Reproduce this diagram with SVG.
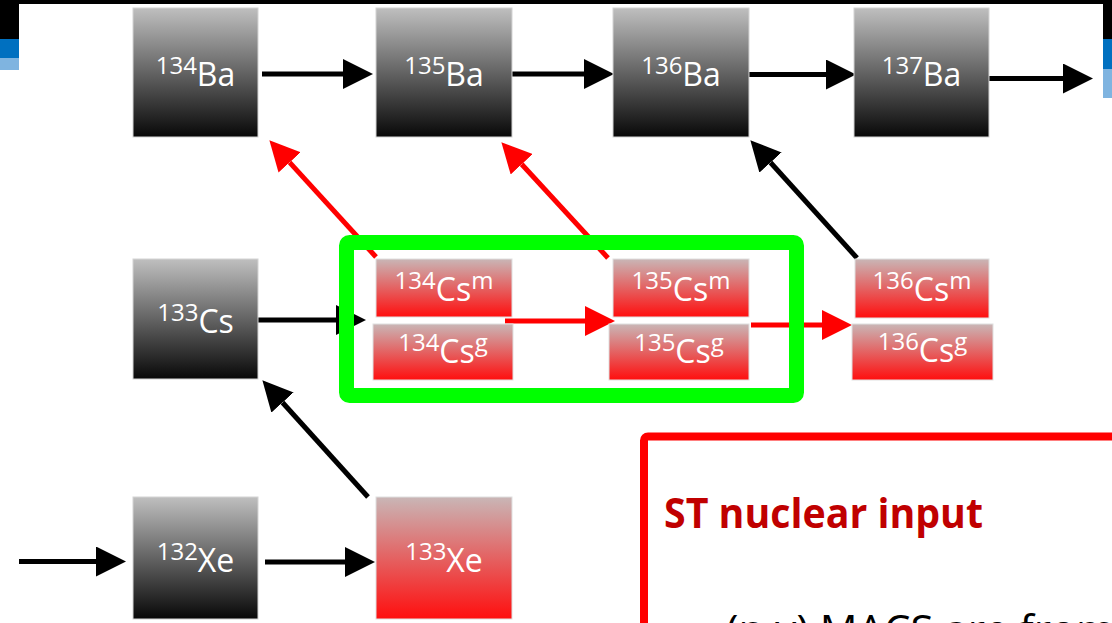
<svg xmlns="http://www.w3.org/2000/svg" width="1112" height="623" viewBox="0 0 1112 623">
  <defs>
    <linearGradient id="gGray" x1="0" y1="0" x2="0" y2="1">
      <stop offset="0" stop-color="#BFBFBF"/>
      <stop offset="1" stop-color="#080808"/>
    </linearGradient>
    <linearGradient id="gRed" x1="0" y1="0" x2="0" y2="1">
      <stop offset="0" stop-color="#C9B6B6"/>
      <stop offset="1" stop-color="#FF0E0E"/>
    </linearGradient>
    <marker id="ahBlack" markerUnits="userSpaceOnUse" markerWidth="30" markerHeight="30" viewBox="0 0 30 30" refX="0" refY="15" orient="auto">
      <path d="M0,0 L30,15 L0,30 Z" fill="#000"/>
    </marker>
    <marker id="ahRed" markerUnits="userSpaceOnUse" markerWidth="30" markerHeight="30" viewBox="0 0 30 30" refX="0" refY="15" orient="auto">
      <path d="M0,0 L30,15 L0,30 Z" fill="#FF0000"/>
    </marker>
  </defs>
  <style>
    .gray { fill: url(#gGray); stroke: #D4D4D4; stroke-width: 1; }
    .red { fill: url(#gRed); stroke: #E0E0E0; stroke-width: 1; }
    .lbl { font-family: "Open Sans", "Noto Sans", "Liberation Sans", sans-serif; fill: #FFFFFF; font-size: 32px; text-anchor: middle; }
    .sup { font-size: 24px; }
    .blk { fill: none; stroke: #000; stroke-width: 5; marker-end: url(#ahBlack); }
    .rd { fill: none; stroke: #FF0000; stroke-width: 5; marker-end: url(#ahRed); }
  </style>

  <!-- slide background elements -->
  <g id="background">
    <rect x="0" y="0" width="1112" height="623" fill="#FFFFFF"/>
    <rect x="0" y="0" width="1112" height="4" fill="#000"/>
    <rect x="0" y="0" width="19" height="39" fill="#000"/>
    <rect x="0" y="39" width="19" height="19" fill="#0070C0"/>
    <rect x="0" y="58" width="19" height="12" fill="#7FB4E0"/>
    <rect x="1103" y="0" width="9" height="39" fill="#000"/>
    <rect x="1103" y="39" width="9" height="30" fill="#0070C0"/>
    <rect x="1103" y="69" width="9" height="29" fill="#7FB4E0"/>
  </g>

  <!-- connectors -->
  <g id="connectors">
    <line class="blk" x1="262" y1="74" x2="343" y2="74"/>
    <line class="blk" x1="505" y1="74" x2="584" y2="74"/>
    <line class="blk" x1="749" y1="74.5" x2="826" y2="74.5"/>
    <line class="blk" x1="986" y1="78.5" x2="1063" y2="78.5"/>
    <line class="blk" x1="258" y1="320" x2="336" y2="320"/>
    <line class="blk" x1="19" y1="561.5" x2="96" y2="561.5"/>
    <line class="blk" x1="265" y1="562" x2="345" y2="562"/>
    <line class="rd" x1="505" y1="321" x2="585" y2="321"/>
    <line class="rd" x1="751" y1="325" x2="822" y2="325"/>
    <line class="rd" x1="376" y1="257" x2="289.6" y2="162.4"/>
    <line class="rd" x1="608" y1="258" x2="521.7" y2="164.3"/>
    <line class="blk" x1="857" y1="258" x2="770.5" y2="162.5"/>
    <line class="blk" x1="368" y1="497" x2="282.5" y2="402.5"/>
  </g>

  <!-- nodes -->
  <g id="Ba134">
    <rect class="gray" x="133" y="8" width="125" height="129"/>
    <text class="lbl" x="195.5" y="86"><tspan class="sup" dy="-12">134</tspan><tspan dy="12">Ba</tspan></text>
  </g>
  <g id="Ba135">
    <rect class="gray" x="376" y="8" width="136" height="129"/>
    <text class="lbl" x="444" y="86"><tspan class="sup" dy="-12">135</tspan><tspan dy="12">Ba</tspan></text>
  </g>
  <g id="Ba136">
    <rect class="gray" x="613" y="8" width="136" height="129"/>
    <text class="lbl" x="681" y="86"><tspan class="sup" dy="-12">136</tspan><tspan dy="12">Ba</tspan></text>
  </g>
  <g id="Ba137">
    <rect class="gray" x="854" y="8" width="135" height="129"/>
    <text class="lbl" x="921.5" y="86"><tspan class="sup" dy="-12">137</tspan><tspan dy="12">Ba</tspan></text>
  </g>
  <g id="Cs133">
    <rect class="gray" x="133" y="259" width="125" height="120"/>
    <text class="lbl" x="195.5" y="333"><tspan class="sup" dy="-12">133</tspan><tspan dy="12">Cs</tspan></text>
  </g>
  <g id="Cs134m">
    <rect class="red" x="376" y="259" width="136" height="58"/>
    <text class="lbl" x="444" y="301"><tspan class="sup" dy="-12">134</tspan><tspan dy="12">Cs</tspan><tspan class="sup" dy="-12">m</tspan></text>
  </g>
  <g id="Cs134g">
    <rect class="red" x="373" y="324" width="140" height="56"/>
    <text class="lbl" x="443" y="363"><tspan class="sup" dy="-12">134</tspan><tspan dy="12">Cs</tspan><tspan class="sup" dy="-12">g</tspan></text>
  </g>
  <g id="Cs135m">
    <rect class="red" x="613" y="259" width="136" height="58"/>
    <text class="lbl" x="681" y="301"><tspan class="sup" dy="-12">135</tspan><tspan dy="12">Cs</tspan><tspan class="sup" dy="-12">m</tspan></text>
  </g>
  <g id="Cs135g">
    <rect class="red" x="609" y="324" width="140" height="56"/>
    <text class="lbl" x="679" y="363"><tspan class="sup" dy="-12">135</tspan><tspan dy="12">Cs</tspan><tspan class="sup" dy="-12">g</tspan></text>
  </g>
  <g id="Cs136m">
    <rect class="red" x="855" y="259" width="134" height="59"/>
    <text class="lbl" x="922" y="301"><tspan class="sup" dy="-12">136</tspan><tspan dy="12">Cs</tspan><tspan class="sup" dy="-12">m</tspan></text>
  </g>
  <g id="Cs136g">
    <rect class="red" x="852" y="324" width="141" height="56"/>
    <text class="lbl" x="922.5" y="362"><tspan class="sup" dy="-12">136</tspan><tspan dy="12">Cs</tspan><tspan class="sup" dy="-12">g</tspan></text>
  </g>
  <g id="Xe132">
    <rect class="gray" x="133" y="497" width="125" height="122"/>
    <text class="lbl" x="195.5" y="572"><tspan class="sup" dy="-12">132</tspan><tspan dy="12">Xe</tspan></text>
  </g>
  <g id="Xe133">
    <rect class="red" x="376" y="497" width="136" height="122"/>
    <text class="lbl" x="444" y="572"><tspan class="sup" dy="-12">133</tspan><tspan dy="12">Xe</tspan></text>
  </g>

  <!-- green highlight -->
  <g id="highlight">
    <rect x="346.5" y="242.5" width="450" height="153" rx="3" fill="none" stroke="#00FF00" stroke-width="15"/>
  </g>

  <!-- info box -->
  <g id="infobox">
    <rect x="644" y="436.5" width="600" height="300" rx="4" fill="#FFFFFF" stroke="#FF0000" stroke-width="8"/>
    <text x="664" y="528" font-family="'Open Sans', 'Noto Sans', 'Liberation Sans', sans-serif" font-weight="bold" font-size="42" fill="#C00000" textLength="319" lengthAdjust="spacingAndGlyphs">ST nuclear input</text>
    <text x="726" y="645" font-family="'Open Sans', 'Noto Sans', 'Liberation Sans', sans-serif" font-size="42" fill="#000000">(n,γ) MACS are from</text>
  </g>
</svg>
